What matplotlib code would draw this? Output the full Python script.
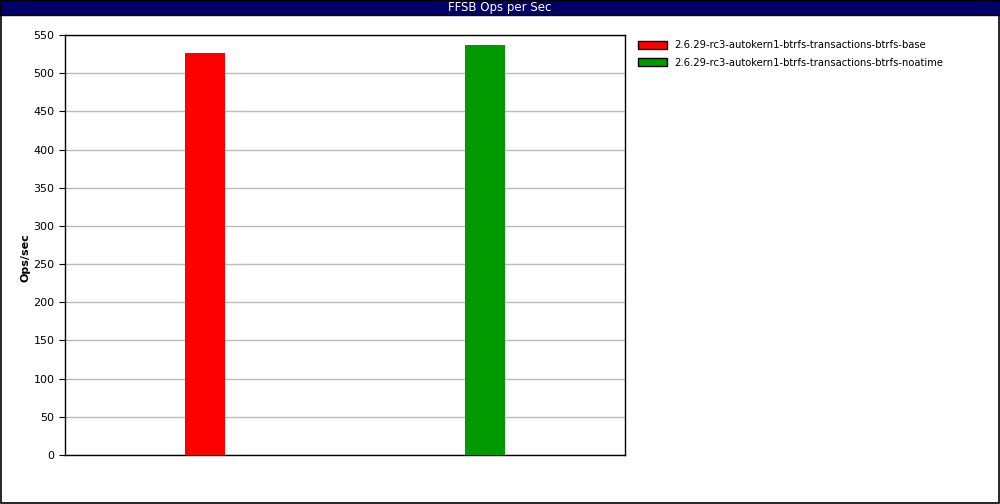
import matplotlib
matplotlib.use("Agg")
import matplotlib.pyplot as plt
from matplotlib.patches import Rectangle

runs = ["2.6.29-rc3-autokern1-btrfs-transactions-btrfs-base",
        "2.6.29-rc3-autokern1-btrfs-transactions-btrfs-noatime"]
ops = [526, 537]
colors = ["#ff0000", "#009900"]
yticks = list(range(0, 551, 50))

fig = plt.figure(figsize=(10, 5.04), dpi=100)
fig.patch.set_facecolor("white")

# outer border and title bar
fig.add_artist(Rectangle((0.0005, 0.001), 0.998, 0.997, transform=fig.transFigure,
                         fill=False, edgecolor="black", linewidth=1.2))
fig.add_artist(Rectangle((0, 1 - 15 / 504), 1, 15 / 504, transform=fig.transFigure,
                         facecolor="#000066", edgecolor="black", linewidth=1))
fig.text(0.5, 1 - 7.5 / 504, "FFSB Ops per Sec", color="white", ha="center",
         va="center", fontsize=8.5)

ax = fig.add_axes([0.065, 49 / 504, 0.56, 420 / 504])
ax.bar(range(len(ops)), ops, width=0.143, color=colors, zorder=3)
ax.set_xlim(-0.5, 1.5)
ax.set_ylim(0, 550)
ax.set_yticks(yticks)
ax.set_xticks([])
ax.yaxis.grid(True, color="#bbbbbb", linewidth=1, zorder=0)
ax.tick_params(axis="y", labelsize=8, length=4)
ax.set_ylabel("Ops/sec", fontsize=8, fontweight="bold")
ax.yaxis.set_label_coords(-0.061, 0.47)
for s in ax.spines.values():
    s.set_linewidth(1)

handles = [Rectangle((0, 0), 1, 1, facecolor=c, edgecolor="black", linewidth=1)
           for c in colors]
fig.legend(handles, runs, loc="upper left", bbox_to_anchor=(0.629, 0.938),
           frameon=False, fontsize=7.2, handlelength=2.9, handleheight=0.8,
           handletextpad=0.7, labelspacing=0.75)

fig.savefig("out.png", dpi=100)
